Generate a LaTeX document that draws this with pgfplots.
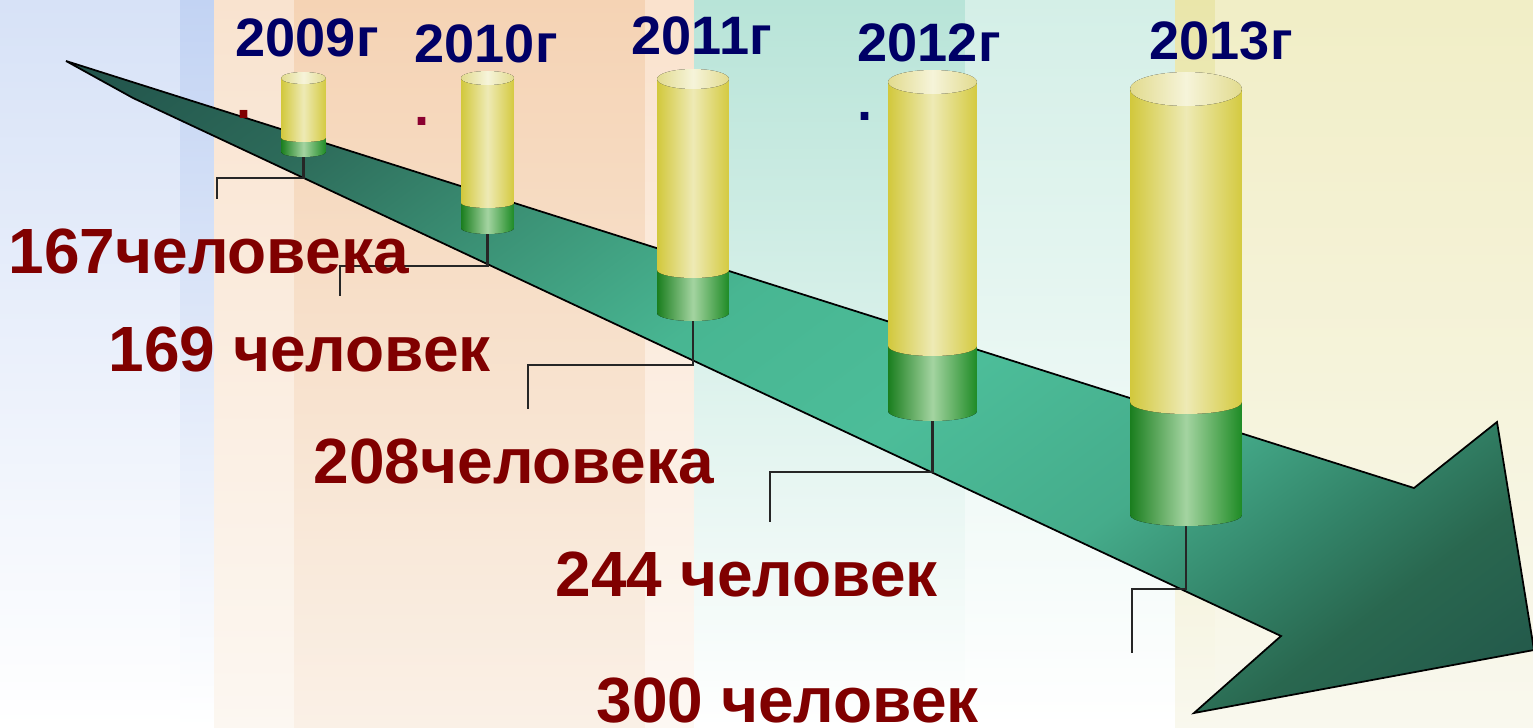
\documentclass[border=0pt]{standalone}
\usepackage{pgfplots}
\pgfplotsset{compat=1.18}
\usepackage{fontspec}
\setmainfont{Liberation Sans}

\definecolor{valred}{HTML}{800000}
\definecolor{yearblue}{HTML}{000066}
\definecolor{dotred}{HTML}{8B0030}
\definecolor{grnD}{HTML}{1A7E1E}
\definecolor{grnL}{HTML}{A4D4A1}
\definecolor{grnD2}{HTML}{1E8B25}
\definecolor{ylwD}{HTML}{D2C83C}
\definecolor{ylwL}{HTML}{EEEAB5}
\definecolor{ylwD2}{HTML}{D4CA40}
\definecolor{capD}{HTML}{E2DB8E}
\definecolor{capL}{HTML}{F6F4DA}
\definecolor{lead}{HTML}{262626}
\definecolor{bA}{HTML}{D7E2F7}
\definecolor{bB}{HTML}{C2D3F3}
\definecolor{pA}{HTML}{F9E3CF}
\definecolor{pAb}{HTML}{FCF7F1}
\definecolor{pB}{HTML}{F5D3B4}
\definecolor{pBb}{HTML}{FAF0E6}
\definecolor{pC}{HTML}{FAE2CD}
\definecolor{pCb}{HTML}{FDF8F3}
\definecolor{tA}{HTML}{B8E4D8}
\definecolor{tB}{HTML}{D4EFE7}
\definecolor{yA}{HTML}{EAE6AA}
\definecolor{yB}{HTML}{F1EEC6}
\definecolor{yb}{HTML}{F9F8EE}
% arrow gradient stops
\definecolor{s20}{HTML}{22574A}
\definecolor{s24}{HTML}{29674F}
\definecolor{s29}{HTML}{338469}
\definecolor{s35}{HTML}{45AC8B}
\definecolor{s45}{HTML}{4CBD99}
\definecolor{s55}{HTML}{48B692}
\definecolor{s65}{HTML}{3B9175}
\definecolor{s73}{HTML}{2D6B5A}
\definecolor{s80}{HTML}{21524A}
\pgfdeclareverticalshading{arrowsh}{100bp}{color(0bp)=(s20); color(30bp)=(s20); color(34.5bp)=(s24); color(37.5bp)=(s29); color(41.5bp)=(s35); color(47.4bp)=(s45); color(53.3bp)=(s55); color(59.1bp)=(s65); color(64.4bp)=(s73); color(70.6bp)=(s80); color(100bp)=(s80)}

% cylinder: centre x, half width, top y, top ry, mid y, mid ry, bottom y, bottom ry
\newcommand{\cyl}[8]{%
  \fill[left color=grnD, right color=grnD2, middle color=grnL]
    ([xshift=-#2*0.01cm]axis cs:#1,#5) -- ([xshift=-#2*0.01cm]axis cs:#1,#7)
    arc[start angle=180, end angle=360, x radius=#2*0.01cm, y radius=#8*0.01cm]
    -- ([xshift=#2*0.01cm]axis cs:#1,#5) -- cycle;
  \fill[left color=ylwD, right color=ylwD2, middle color=ylwL]
    ([xshift=-#2*0.01cm]axis cs:#1,#3) -- ([xshift=-#2*0.01cm]axis cs:#1,#5)
    arc[start angle=180, end angle=360, x radius=#2*0.01cm, y radius=#6*0.01cm]
    -- ([xshift=#2*0.01cm]axis cs:#1,#3) -- cycle;
  \fill[left color=capD, right color=capD, middle color=capL]
    (axis cs:#1,#3) ellipse [x radius=#2*0.01cm, y radius=#4*0.01cm];
}
\newcommand{\valfont}{\fontsize{18.2}{20}\selectfont\bfseries}
\newcommand{\yearfont}{\fontsize{15.4}{17}\selectfont\bfseries}

\begin{document}
\begin{tikzpicture}
\begin{axis}[at={(0,0)}, anchor=south west,
  width=15.33cm, height=7.27cm, scale only axis,
  xmin=0, xmax=1533, ymin=0, ymax=727, y dir=reverse,
  hide axis, clip=true]

% background bands
\fill[top color=bA, bottom color=white] (axis cs:0,0) rectangle (axis cs:180,727);
\fill[top color=bB, bottom color=white] (axis cs:180,0) rectangle (axis cs:214,727);
\fill[top color=pA, bottom color=pAb] (axis cs:214,0) rectangle (axis cs:294,727);
\fill[top color=pB, bottom color=pBb] (axis cs:294,0) rectangle (axis cs:645,727);
\fill[top color=pC, bottom color=pCb] (axis cs:645,0) rectangle (axis cs:694,727);
\fill[top color=tA, bottom color=white] (axis cs:694,0) rectangle (axis cs:965,727);
\fill[top color=tB, bottom color=white] (axis cs:965,0) rectangle (axis cs:1175,727);
\fill[top color=yA, bottom color=yb] (axis cs:1175,0) rectangle (axis cs:1215,727);
\fill[top color=yB, bottom color=yb] (axis cs:1215,0) rectangle (axis cs:1533,727);

% arrow
\begin{scope}
\clip (axis cs:66,61) -- (axis cs:1414,488) -- (axis cs:1497,422) -- (axis cs:1534,650)
  -- (axis cs:1194,713) -- (axis cs:1281,636) -- (axis cs:133,98) -- cycle;
\shade[shading=arrowsh, shading angle=37] (axis cs:-50,-463) rectangle (axis cs:1650,1237);
\end{scope}
\draw[black, line width=0.5pt, line join=miter]
  (axis cs:66,61) -- (axis cs:1414,488) -- (axis cs:1497,422) -- (axis cs:1534,650)
  -- (axis cs:1194,713) -- (axis cs:1281,636) -- (axis cs:133,98) -- cycle;

% leader lines
\addplot[lead, line width=0.6pt] coordinates {(303.5,157) (303.5,178) (217,178) (217,199)};
\addplot[lead, line width=0.6pt] coordinates {(487.5,234) (487.5,266) (340,266) (340,296)};
\addplot[lead, line width=0.6pt] coordinates {(693,321) (693,365) (528,365) (528,409)};
\addplot[lead, line width=0.6pt] coordinates {(932.5,421) (932.5,472) (770,472) (770,522)};
\addplot[lead, line width=0.6pt] coordinates {(1186,526) (1186,589) (1132,589) (1132,653)};

% cylinders
\cyl{303.5}{22.5}{78}{6}{138}{4}{152}{5}
\cyl{487.5}{26.5}{78}{7}{203}{5}{228}{6}
\cyl{693}{36}{79}{10}{270}{8}{313}{8}
\cyl{932.5}{44.5}{82}{12}{346}{10}{411}{10}
\cyl{1186}{56}{89}{17}{402}{12}{515}{11}

% years
\node[anchor=base west, inner sep=0, text=yearblue, font=\yearfont] at (axis cs:235,57) {2009г};
\node[anchor=base west, inner sep=0, text=yearblue, font=\yearfont] at (axis cs:414,63) {2010г};
\node[anchor=base west, inner sep=0, text=yearblue, font=\yearfont] at (axis cs:631,55) {2011г};
\node[anchor=base west, inner sep=0, text=yearblue, font=\yearfont] at (axis cs:857,62) {2012г};
\node[anchor=base west, inner sep=0, text=yearblue, font=\yearfont] at (axis cs:1149,60) {2013г};
\node[anchor=base west, inner sep=0, text=valred, font=\yearfont] at (axis cs:236,119) {.};
\node[anchor=base west, inner sep=0, text=dotred, font=\yearfont] at (axis cs:414,126) {.};
\node[anchor=base west, inner sep=0, text=yearblue, font=\yearfont] at (axis cs:857,120) {.};

% values
\node[anchor=base west, inner sep=0, text=valred, font=\valfont] at (axis cs:8,273) {167человека};
\node[anchor=base west, inner sep=0, text=valred, font=\valfont] at (axis cs:108,371) {169 человек};
\node[anchor=base west, inner sep=0, text=valred, font=\valfont] at (axis cs:313,483) {208человека};
\node[anchor=base west, inner sep=0, text=valred, font=\valfont] at (axis cs:555,596) {244 человек};
\node[anchor=base west, inner sep=0, text=valred, font=\valfont] at (axis cs:596,722) {300 человек};

\end{axis}
\pgfresetboundingbox
\path[use as bounding box] (0,0) rectangle (15.33cm,7.27cm);
\end{tikzpicture}
\end{document}
